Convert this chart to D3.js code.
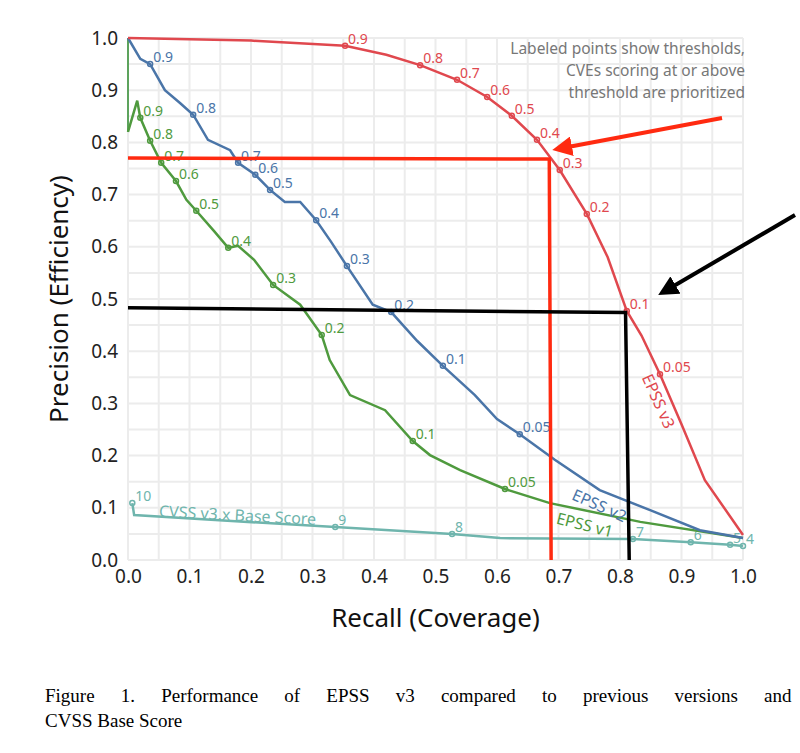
<!DOCTYPE html>
<html><head><meta charset="utf-8">
<script src="https://cdn.jsdelivr.net/npm/d3@7"></script>
<style>body{margin:0;background:#fff}</style>
</head><body><svg id="chart" width="800" height="753"></svg>
<script>
// curves: [recall, precision]
var epssV3 = [[0,1.0],[0.2,0.995],[0.353,0.985],[0.42,0.968],[0.475,0.948],[0.535,0.92],[0.584,0.887],[0.624,0.851],[0.665,0.805],[0.702,0.747],[0.746,0.663],[0.78,0.58],[0.811,0.477],[0.835,0.43],[0.865,0.356],[0.9,0.26],[0.938,0.153],[1.0,0.048]];
var epssV3Pts = [[0.353,0.985,"0.9"],[0.475,0.948,"0.8"],[0.535,0.92,"0.7"],[0.584,0.887,"0.6"],[0.624,0.851,"0.5"],[0.665,0.805,"0.4"],[0.702,0.747,"0.3"],[0.746,0.663,"0.2"],[0.811,0.477,"0.1"],[0.865,0.356,"0.05"]];
var epssV2 = [[0,1.0],[0.02,0.96],[0.036,0.95],[0.06,0.9],[0.085,0.875],[0.106,0.853],[0.13,0.805],[0.166,0.785],[0.179,0.761],[0.207,0.738],[0.231,0.709],[0.255,0.686],[0.28,0.686],[0.306,0.651],[0.33,0.61],[0.356,0.563],[0.398,0.489],[0.428,0.475],[0.47,0.42],[0.512,0.372],[0.564,0.316],[0.6,0.27],[0.637,0.241],[0.694,0.192],[0.767,0.134],[0.85,0.095],[0.93,0.057],[1.0,0.042]];
var epssV2Pts = [[0.036,0.95,"0.9"],[0.106,0.853,"0.8"],[0.179,0.761,"0.7"],[0.207,0.738,"0.6"],[0.231,0.709,"0.5"],[0.306,0.651,"0.4"],[0.356,0.563,"0.3"],[0.428,0.475,"0.2"],[0.512,0.372,"0.1"],[0.637,0.241,"0.05"]];
var epssV1 = [[0,0.82],[0.015,0.88],[0.02,0.847],[0.036,0.803],[0.054,0.761],[0.078,0.726],[0.095,0.69],[0.111,0.669],[0.14,0.63],[0.163,0.598],[0.179,0.602],[0.205,0.575],[0.236,0.527],[0.28,0.489],[0.315,0.431],[0.328,0.383],[0.361,0.316],[0.418,0.287],[0.463,0.228],[0.491,0.201],[0.54,0.172],[0.613,0.136],[0.686,0.109],[0.833,0.073],[1.0,0.042]];
var epssV1Pts = [[0.02,0.847,"0.9"],[0.036,0.803,"0.8"],[0.054,0.761,"0.7"],[0.078,0.726,"0.6"],[0.111,0.669,"0.5"],[0.163,0.598,"0.4"],[0.236,0.527,"0.3"],[0.315,0.431,"0.2"],[0.463,0.228,"0.1"],[0.613,0.136,"0.05"]];
var cvss = [[0.007,0.109],[0.01,0.086],[0.337,0.063],[0.527,0.05],[0.605,0.042],[0.821,0.04],[0.915,0.034],[0.979,0.029],[1.0,0.027]];
var cvssPts = [[0.007,0.109,"10"],[0.337,0.063,"9"],[0.527,0.05,"8"],[0.821,0.04,"7"],[0.915,0.034,"6"],[0.979,0.029,"5"],[1.0,0.027,"4"]];
var ticks = [0,0.1,0.2,0.3,0.4,0.5,0.6,0.7,0.8,0.9,1.0];
var redGuide = [[0,0.77],[0.685,0.768],[0.688,0]];
var blackGuide = [[0,0.483],[0.809,0.474],[0.815,0]];

var svg = d3.select("#chart");
var x = d3.scaleLinear().domain([0,1]).range([128,743]);
var y = d3.scaleLinear().domain([0,1]).range([560,38]);

var minor = d3.range(0,1.001,0.05);
svg.append("g").selectAll("line").data(minor).enter().append("line")
    .attr("x1", d => x(d)).attr("x2", d => x(d)).attr("y1", y(0)).attr("y2", y(1))
    .attr("stroke", "#ececec").attr("stroke-width", 2);
svg.append("g").selectAll("line").data(minor).enter().append("line")
    .attr("y1", d => y(d)).attr("y2", d => y(d)).attr("x1", x(0)).attr("x2", x(1))
    .attr("stroke", "#ececec").attr("stroke-width", 2);

var xAxis = svg.append("g").attr("transform", "translate(0," + (y(0) + 2) + ")")
    .call(d3.axisBottom(x).tickValues(ticks).tickFormat(d3.format(".1f")).tickSize(0).tickPadding(8));
var yAxis = svg.append("g").attr("transform", "translate(" + (x(0) - 4) + ",0)")
    .call(d3.axisLeft(y).tickValues(ticks).tickFormat(d3.format(".1f")).tickSize(0).tickPadding(6));
[xAxis, yAxis].forEach(function(a) {
    a.select(".domain").remove();
    a.selectAll("text").attr("font-family", "Noto Sans, sans-serif").attr("font-size", 19).attr("fill", "#222");
});

var line = d3.line().x(d => x(d[0])).y(d => y(d[1]));

// vertical dark green segment at x=0
svg.append("line").attr("x1", x(0)).attr("x2", x(0)).attr("y1", y(0.82)).attr("y2", y(1))
    .attr("stroke", "#2e8b2e").attr("stroke-width", 1.5);

var series = [
    {data: cvss, pts: cvssPts, color: "#6fb5ad"},
    {data: epssV1, pts: epssV1Pts, color: "#4f9a3e"},
    {data: epssV2, pts: epssV2Pts, color: "#4a75a8"},
    {data: epssV3, pts: epssV3Pts, color: "#e0484e"}
];
series.forEach(function(s) {
    svg.append("path").datum(s.data).attr("d", line)
        .attr("fill", "none").attr("stroke", s.color).attr("stroke-width", 2.5);
    var g = svg.append("g");
    g.selectAll("circle").data(s.pts).enter().append("circle")
        .attr("cx", d => x(d[0])).attr("cy", d => y(d[1])).attr("r", 2.5)
        .attr("fill", "none").attr("stroke", s.color).attr("stroke-width", 1.5);
    g.selectAll("text").data(s.pts).enter().append("text")
        .attr("x", d => x(d[0]) + 3).attr("y", d => y(d[1]) - 2)
        .attr("font-family", "Noto Sans, sans-serif").attr("font-size", 14)
        .attr("fill", s.color).text(d => d[2]);
});

// series names
var names = [
    {t: "EPSS v3", px: 0.835, py: 0.35, r: 66, c: "#e0484e"},
    {t: "EPSS v2", px: 0.72, py: 0.117, r: 24, c: "#4a75a8"},
    {t: "EPSS v1", px: 0.695, py: 0.07, r: 14, c: "#4f9a3e"},
    {t: "CVSS v3.x Base Score", px: 0.05, py: 0.083, r: 3, c: "#6fb5ad"}
];
svg.append("g").selectAll("text").data(names).enter().append("text")
    .attr("transform", d => "translate(" + x(d.px) + "," + y(d.py) + ") rotate(" + d.r + ")")
    .attr("font-family", "Noto Sans, sans-serif").attr("font-size", 16)
    .attr("fill", d => d.c).text(d => d.t);

// guide lines
svg.append("path").datum(redGuide).attr("d", line).attr("fill", "none")
    .attr("stroke", "#ff2a10").attr("stroke-width", 3.5);
svg.append("path").datum(blackGuide).attr("d", line).attr("fill", "none")
    .attr("stroke", "#000").attr("stroke-width", 3.5);

// arrows
var defs = svg.append("defs");
[["red", "#ff2a10"], ["blk", "#000"]].forEach(function(m) {
    defs.append("marker").attr("id", m[0]).attr("viewBox", "0 0 10 10")
        .attr("refX", 2).attr("refY", 5).attr("markerWidth", 5).attr("markerHeight", 5)
        .attr("orient", "auto").append("path").attr("d", "M0,0L10,5L0,10z").attr("fill", m[1]);
});
svg.append("line").attr("x1", 722).attr("y1", 118).attr("x2", 568).attr("y2", 147)
    .attr("stroke", "#ff2a10").attr("stroke-width", 4).attr("marker-end", "url(#red)");
svg.append("line").attr("x1", 795).attr("y1", 215).attr("x2", 672).attr("y2", 287)
    .attr("stroke", "#000").attr("stroke-width", 4).attr("marker-end", "url(#blk)");

// note
var note = ["Labeled points show thresholds,", "CVEs scoring at or above", "threshold are prioritized"];
svg.append("g").selectAll("text").data(note).enter().append("text")
    .attr("x", 745).attr("y", (d, i) => 54 + i * 22).attr("text-anchor", "end")
    .attr("font-family", "Noto Sans, sans-serif").attr("font-size", 15.5)
    .attr("fill", "#777").text(d => d);

// axis titles
svg.append("text").attr("x", x(0.5)).attr("y", 627).attr("text-anchor", "middle")
    .attr("font-family", "Noto Sans, sans-serif").attr("font-size", 26).attr("fill", "#111")
    .text("Recall (Coverage)");
svg.append("text").attr("transform", "translate(68," + y(0.5) + ") rotate(-90)")
    .attr("text-anchor", "middle")
    .attr("font-family", "Noto Sans, sans-serif").attr("font-size", 26).attr("fill", "#111")
    .text("Precision (Efficiency)");

// caption, first line justified with word spacing
var cap1 = svg.append("text").attr("x", 45).attr("y", 702)
    .attr("font-family", "Liberation Serif, Times New Roman, serif").attr("font-size", 19).attr("fill", "#000")
    .text("Figure 1. Performance of EPSS v3 compared to previous versions and");
var w = cap1.node().getComputedTextLength();
cap1.attr("word-spacing", Math.max(0, (725 - w) / 9));
svg.append("text").attr("x", 45).attr("y", 727)
    .attr("font-family", "Liberation Serif, Times New Roman, serif").attr("font-size", 19).attr("fill", "#000")
    .text("CVSS Base Score");
</script></body></html>
